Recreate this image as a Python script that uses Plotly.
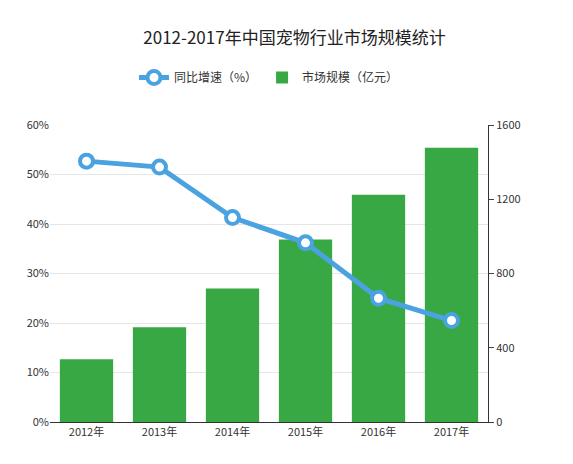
import plotly.graph_objects as go

years = ["2012年", "2013年", "2014年", "2015年", "2016年", "2017年"]
market_size = [338, 510, 719, 983, 1224, 1477]
growth = [52.7, 51.5, 41.3, 36.2, 25.0, 20.5]

fig = go.Figure()
fig.add_trace(go.Scatter(
    x=years, y=growth, name="同比增速（%）", mode="lines+markers", yaxis="y2",
    line=dict(color="#4aa3e0", width=5),
    marker=dict(size=13, color="white", line=dict(color="#4aa3e0", width=4)),
))
fig.add_trace(go.Bar(
    x=years, y=market_size, name="市场规模（亿元）",
    marker=dict(color="#38a845", line=dict(width=0)),
))

font = "Noto Sans CJK SC"
fig.update_layout(
    width=573, height=464,
    margin=dict(l=42, r=93, t=117, b=50),
    paper_bgcolor="white", plot_bgcolor="white",
    font=dict(family=font, size=12, color="#333"),
    title=dict(text="2012-2017年中国宠物行业市场规模统计", x=0.5, xanchor="center",
               y=0.935, yanchor="middle", font=dict(size=17, color="#222")),
    legend=dict(orientation="h", x=0.5, xanchor="center", y=1.16, yanchor="middle",
                font=dict(size=12), traceorder="normal"),
    bargap=0.27,
    xaxis=dict(showline=True, linecolor="#333", ticks="", tickfont=dict(size=11)),
    yaxis=dict(range=[0, 1600], dtick=400, side="right", showgrid=False,
               showline=True, linecolor="#333", ticks="outside", ticklen=5,
               tickfont=dict(size=11), zeroline=False),
    yaxis2=dict(range=[0, 60], dtick=10, ticksuffix="%", overlaying="y", side="left",
                showgrid=True, gridcolor="#e6e6e6", zeroline=False, tickfont=dict(size=11)),
)
fig.write_html("out.html")
